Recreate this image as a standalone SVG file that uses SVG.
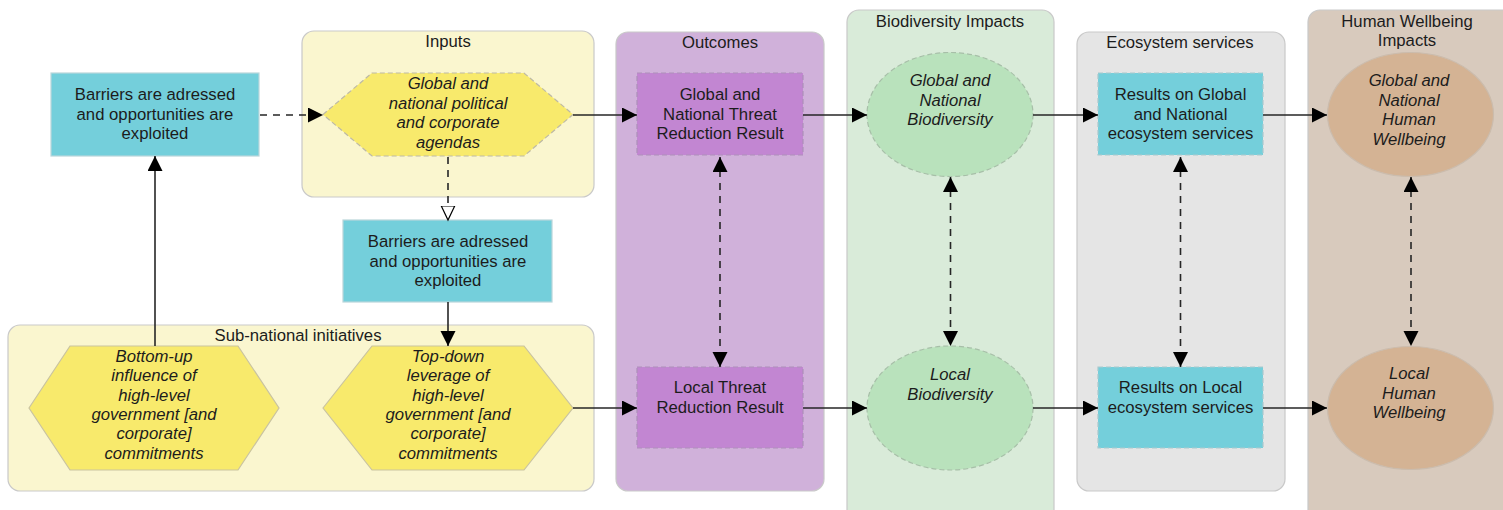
<svg xmlns="http://www.w3.org/2000/svg" width="1503" height="510" viewBox="0 0 1503 510">
  <style>
    text { font-family: "Liberation Sans", Arial, sans-serif; font-size: 16.7px; fill: #1c1c1c; text-anchor: middle; }
    .it { font-style: italic; }
    .lane { stroke: #c9c9c9; stroke-width: 1.2; }
    .cyan { fill: #74cfdb; stroke: #b9d6da; stroke-width: 1.2; }
    .cyan-d { fill: #74cfdb; stroke: #a9c9cd; stroke-width: 1.2; stroke-dasharray: 5 3; }
    .purple { fill: #c286d2; stroke: #ad8fba; stroke-width: 1.2; stroke-dasharray: 5 3; }
    .hex { fill: #f8ea6c; stroke: #c9c3a0; stroke-width: 1.2; }
    .hex-d { fill: #f8ea6c; stroke: #bdb9a6; stroke-width: 1.2; stroke-dasharray: 5 3; }
    .green { fill: #b9e2bc; stroke: #a7bfa8; stroke-width: 1.2; stroke-dasharray: 5 3; }
    .tan { fill: #d4b394; stroke: #cbbcad; stroke-width: 1.2; }
    .link { fill: none; stroke: #262626; stroke-width: 1.6; }
    .dash { stroke-dasharray: 7 6; }
  </style>
  <defs>
    <marker id="arrow" markerUnits="userSpaceOnUse" markerWidth="16" markerHeight="16" refX="15" refY="7.5" orient="auto-start-reverse">
      <path d="M0,0 L15,7.5 L0,15 Z" fill="#000"/>
    </marker>
    <marker id="arrow-open" markerUnits="userSpaceOnUse" markerWidth="16" markerHeight="16" refX="14.5" refY="7.5" orient="auto">
      <path d="M0.5,0.8 L14.5,7.5 L0.5,14.2 Z" fill="#fff" stroke="#000" stroke-width="1.2"/>
    </marker>
  </defs>

  <!-- swimlane containers -->
  <g id="lane-inputs">
    <rect class="lane" x="302" y="31" width="292" height="166" rx="12" fill="#faf6cf"/>
    <text x="448" y="47">Inputs</text>
  </g>
  <g id="lane-subnational">
    <rect class="lane" x="8" y="325" width="586" height="166" rx="12" fill="#faf6cf"/>
    <text x="298" y="341">Sub-national initiatives</text>
  </g>
  <g id="lane-outcomes">
    <rect class="lane" x="616" y="32" width="208" height="459" rx="12" fill="#d0b1da"/>
    <text x="720" y="48">Outcomes</text>
  </g>
  <g id="lane-biodiversity">
    <rect class="lane" x="847" y="10" width="207" height="512" rx="12" fill="#d9ebd9"/>
    <text x="950" y="27">Biodiversity Impacts</text>
  </g>
  <g id="lane-ecosystem">
    <rect class="lane" x="1077" y="32" width="208" height="459" rx="12" fill="#e5e5e5"/>
    <text x="1180" y="48">Ecosystem services</text>
  </g>
  <g id="lane-wellbeing">
    <rect class="lane" x="1308" y="10" width="212" height="512" rx="12" fill="#d8cabd"/>
    <text x="1407" y="27">Human Wellbeing</text>
    <text x="1407" y="46">Impacts</text>
  </g>

  <!-- nodes -->
  <g id="barriers-left">
    <rect class="cyan" x="51" y="73" width="208" height="83"/>
    <text x="155" y="100">Barriers are adressed</text>
    <text x="155" y="119.5">and opportunities are</text>
    <text x="155" y="139">exploited</text>
  </g>
  <g id="agendas">
    <polygon class="hex-d" points="323,114.5 372,73 524,73 573,114.5 524,156 372,156"/>
    <text class="it" x="448" y="89">Global and</text>
    <text class="it" x="448" y="108.5">national political</text>
    <text class="it" x="448" y="128">and corporate</text>
    <text class="it" x="448" y="147.5">agendas</text>
  </g>
  <g id="barriers-middle">
    <rect class="cyan" x="343" y="220" width="209" height="82"/>
    <text x="448" y="247">Barriers are adressed</text>
    <text x="448" y="266.5">and opportunities are</text>
    <text x="448" y="286">exploited</text>
  </g>
  <g id="bottom-up">
    <polygon class="hex" points="29,408 70,346 238,346 279,408 238,470 70,470"/>
    <text class="it" x="154" y="362">Bottom-up</text>
    <text class="it" x="154" y="381.3">influence of</text>
    <text class="it" x="154" y="400.6">high-level</text>
    <text class="it" x="154" y="419.9">government [and</text>
    <text class="it" x="154" y="439.2">corporate]</text>
    <text class="it" x="154" y="458.5">commitments</text>
  </g>
  <g id="top-down">
    <polygon class="hex" points="323,408 372,346 524,346 573,408 524,470 372,470"/>
    <text class="it" x="448" y="362">Top-down</text>
    <text class="it" x="448" y="381.3">leverage of</text>
    <text class="it" x="448" y="400.6">high-level</text>
    <text class="it" x="448" y="419.9">government [and</text>
    <text class="it" x="448" y="439.2">corporate]</text>
    <text class="it" x="448" y="458.5">commitments</text>
  </g>
  <g id="threat-global">
    <rect class="purple" x="637" y="73" width="166" height="82"/>
    <text x="720" y="100">Global and</text>
    <text x="720" y="119.5">National Threat</text>
    <text x="720" y="139">Reduction Result</text>
  </g>
  <g id="threat-local">
    <rect class="purple" x="637" y="367" width="166" height="81"/>
    <text x="720" y="393">Local Threat</text>
    <text x="720" y="412.5">Reduction Result</text>
  </g>
  <g id="biodiversity-global">
    <ellipse class="green" cx="950" cy="114.5" rx="83" ry="62"/>
    <text class="it" x="950" y="86">Global and</text>
    <text class="it" x="950" y="105.5">National</text>
    <text class="it" x="950" y="125">Biodiversity</text>
  </g>
  <g id="biodiversity-local">
    <ellipse class="green" cx="950" cy="408" rx="83" ry="62"/>
    <text class="it" x="950" y="380">Local</text>
    <text class="it" x="950" y="399.5">Biodiversity</text>
  </g>
  <g id="services-global">
    <rect class="cyan-d" x="1098" y="73" width="165" height="82"/>
    <text x="1180.5" y="100">Results on Global</text>
    <text x="1180.5" y="119.5">and National</text>
    <text x="1180.5" y="139">ecosystem services</text>
  </g>
  <g id="services-local">
    <rect class="cyan-d" x="1098" y="367" width="165" height="81"/>
    <text x="1180.5" y="393">Results on Local</text>
    <text x="1180.5" y="412.5">ecosystem services</text>
  </g>
  <g id="wellbeing-global">
    <ellipse class="tan" cx="1410.5" cy="114.5" rx="83" ry="62"/>
    <text class="it" x="1409" y="86">Global and</text>
    <text class="it" x="1409" y="105.5">National</text>
    <text class="it" x="1409" y="125">Human</text>
    <text class="it" x="1409" y="144.5">Wellbeing</text>
  </g>
  <g id="wellbeing-local">
    <ellipse class="tan" cx="1410.5" cy="408" rx="83" ry="61.5"/>
    <text class="it" x="1409" y="379">Local</text>
    <text class="it" x="1409" y="398.5">Human</text>
    <text class="it" x="1409" y="418">Wellbeing</text>
  </g>

  <!-- connectors -->
  <g id="connectors">
    <line class="link dash" x1="260" y1="115" x2="323" y2="115" marker-end="url(#arrow)"/>
    <line class="link dash" x1="448" y1="157" x2="448" y2="220" marker-end="url(#arrow-open)"/>
    <line class="link" x1="448" y1="302" x2="448" y2="346" marker-end="url(#arrow)"/>
    <line class="link" x1="155" y1="346" x2="155" y2="156" marker-end="url(#arrow)"/>

    <line class="link" x1="573" y1="115" x2="637" y2="115" marker-end="url(#arrow)"/>
    <line class="link" x1="803" y1="115" x2="867" y2="115" marker-end="url(#arrow)"/>
    <line class="link" x1="1033" y1="115" x2="1098" y2="115" marker-end="url(#arrow)"/>
    <line class="link" x1="1263" y1="115" x2="1327" y2="115" marker-end="url(#arrow)"/>

    <line class="link" x1="573" y1="408" x2="637" y2="408" marker-end="url(#arrow)"/>
    <line class="link" x1="803" y1="408" x2="867" y2="408" marker-end="url(#arrow)"/>
    <line class="link" x1="1033" y1="408" x2="1098" y2="408" marker-end="url(#arrow)"/>
    <line class="link" x1="1263" y1="408" x2="1327" y2="408" marker-end="url(#arrow)"/>

    <line class="link dash" x1="720" y1="157" x2="720" y2="367" marker-start="url(#arrow)" marker-end="url(#arrow)"/>
    <line class="link dash" x1="950.5" y1="177" x2="950.5" y2="346" marker-start="url(#arrow)" marker-end="url(#arrow)"/>
    <line class="link dash" x1="1180.5" y1="157" x2="1180.5" y2="367" marker-start="url(#arrow)" marker-end="url(#arrow)"/>
    <line class="link dash" x1="1411" y1="177" x2="1411" y2="346" marker-start="url(#arrow)" marker-end="url(#arrow)"/>
  </g>
</svg>
